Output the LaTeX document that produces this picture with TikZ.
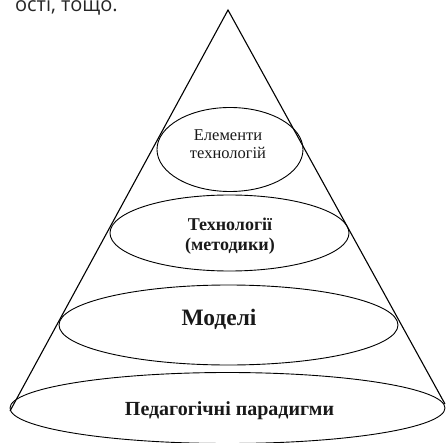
\documentclass[tikz,border=0pt]{standalone}
\usepackage{fontspec}
\setmainfont{Liberation Serif}
\newfontfamily\notefont{Open Sans}

\tikzset{
	layer/.style={line width=0.9pt},
	layertext/.style={inner sep=0pt, anchor=base, align=center, text=black!90}
}

\begin{document}
\begin{tikzpicture}[x=1pt, y=-1pt]
	%%%%% START %%%%%
	\useasboundingbox (0, 0) rectangle (446, 443);

	\node[inner sep=0pt, anchor=base east, text=black!85, font=\notefont\fontsize{20}{24}\selectfont] (tail) at (118, 12) {ості, тощо.};

	\draw[line width=1.1pt, line join=miter] (10, 411) -- (228, 10) -- (445, 404);

	\draw[layer] (230, 149.5) ellipse [x radius=73pt, y radius=42pt];
	\node[layertext, font=\fontsize{16.5}{18}\selectfont] (elem) at (228, 159) {Елементи\\ технологій};

	\draw[layer] (229.5, 233) ellipse [x radius=119.5pt, y radius=38pt];
	\node[layertext, font=\bfseries\fontsize{18}{20}\selectfont] (tech) at (230, 250) {Технології\\ (методики)};

	\draw[layer] (228.5, 325) ellipse [x radius=169.5pt, y radius=40pt];
	\node[layertext, font=\bfseries\fontsize{23.5}{26}\selectfont] (model) at (219, 325) {Моделі};

	\draw[layer] (227.5, 408) ellipse [x radius=217.5pt, y radius=35.5pt];
	\node[layertext, font=\bfseries\fontsize{20}{22}\selectfont] (parad) at (229.5, 415) {Педагогічні парадигми};

	%%%%% END %%%%%
\end{tikzpicture}
\end{document}
